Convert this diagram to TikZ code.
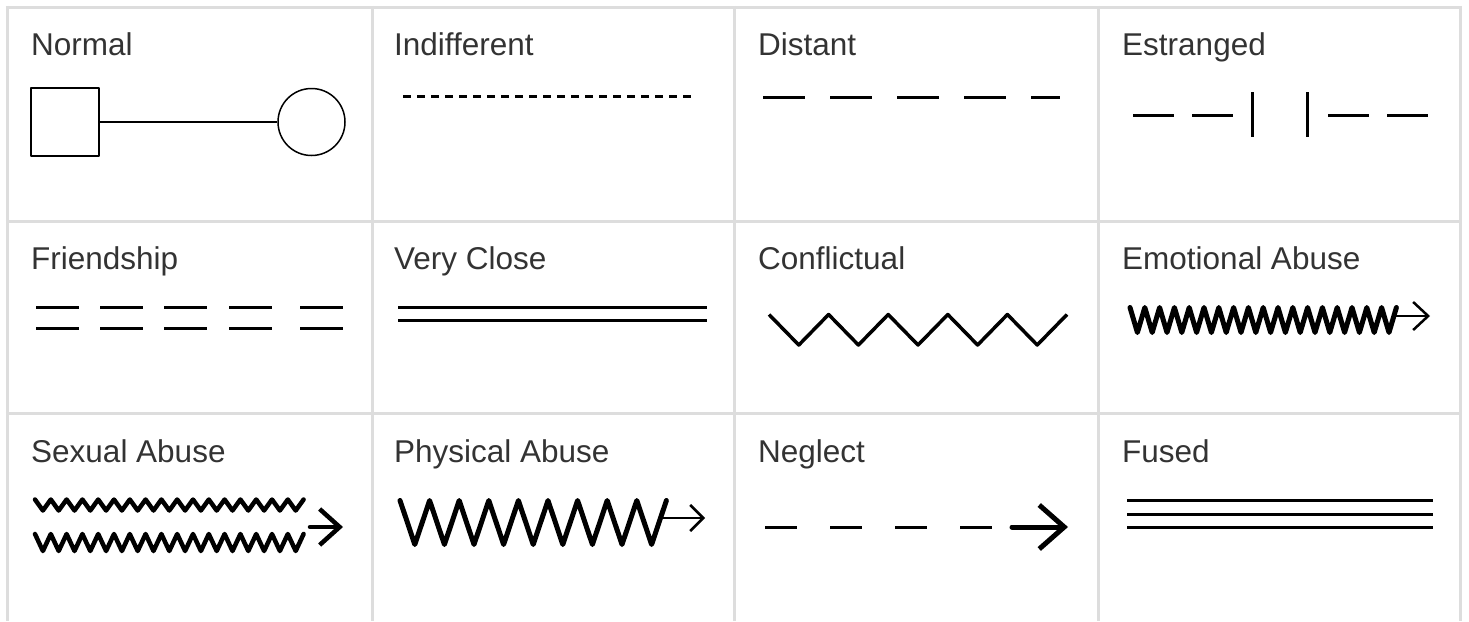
\documentclass[tikz,border=0pt]{standalone}
\usepackage{fontspec}
\setmainfont{Liberation Sans}
\usetikzlibrary{arrows.meta}
\definecolor{cellgray}{HTML}{DDDDDD}
\definecolor{textgray}{HTML}{333333}

\begin{document}
\begin{tikzpicture}[x=1pt, y=-1pt, line join=round]
    \tikzstyle{cellline} = [cellgray, line width=3pt]
    \tikzstyle{legendtext} = [anchor=base west, inner sep=0pt, text=textgray, font=\fontsize{31.5}{36}\selectfont]
    \tikzstyle{rel} = [line width=3pt]
    \tikzstyle{wiggle} = [line width=4.5pt, line cap=round, line join=round]
    \useasboundingbox (0,0) rectangle (1469,621);
    % table
    \foreach \x in {7, 372, 734, 1098, 1460}
        \draw[cellline] (\x,5.5) -- (\x,621);
    \foreach \y in {7, 221, 413}
        \draw[cellline] (5.5,\y) -- (1461.5,\y);
    % names
    \node[legendtext] (normal) at (31,55) {Normal};
    \node[legendtext] (indiff) at (394,55) {Indifferent};
    \node[legendtext] (distant) at (758,55) {Distant};
    \node[legendtext] (estr) at (1122,55) {Estranged};
    \node[legendtext] (friend) at (31,269) {Friendship};
    \node[legendtext] (veryclose) at (394,269) {Very Close};
    \node[legendtext] (confl) at (758,269) {Conflictual};
    \node[legendtext] (emoab) at (1122,269) {Emotional Abuse};
    \node[legendtext] (sexab) at (31,462) {Sexual Abuse};
    \node[legendtext] (physab) at (394,462) {Physical Abuse};
    \node[legendtext] (neglect) at (758,462) {Neglect};
    \node[legendtext] (fused) at (1122,462) {Fused};
    % normal
    \node[draw, line width=1.5pt, minimum size=68pt, inner sep=0pt] (male) at (65,122) {};
    \node[draw, circle, line width=1.5pt, minimum size=67pt, inner sep=0pt] (female) at (311.5,122) {};
    \draw[line width=1.5pt] (male) -- (female);
    % indifferent, distant
    \draw[rel, dash pattern=on 8pt off 6pt] (403,96.5) -- (695,96.5);
    \draw[rel, dash pattern=on 42pt off 25pt] (763,97) -- (1060,97);
    % estranged
    \foreach \x in {1133, 1192, 1328, 1387}
        \draw[rel] (\x,115.5) -- +(41,0);
    \draw[rel] (1252,92) -- (1252,137);
    \draw[rel] (1307,92) -- (1307,137);
    % friendship, very close
    \foreach \x in {36, 100, 164, 229, 300} {
        \draw[rel] (\x,307.5) -- +(43,0);
        \draw[rel] (\x,328.5) -- +(43,0);
    }
    \draw[rel] (398,307.5) -- (707,307.5);
    \draw[rel] (398,320.5) -- (707,320.5);
    % conflictual
    \draw[rel, line width=3.5pt] (769,314.5)
        \foreach \i in {1,...,10} { -- ++(29.8,{-30.5*cos(180*\i)}) };
    % emotional abuse
    \draw[wiggle, line width=5pt] (1130,307.5)
        \foreach \i in {1,...,36} { -- ++(7.4,{-25*cos(180*\i)}) };
    \draw[line width=2.5pt, -{Straight Barb[length=15pt,width=28pt]}] (1394,316) -- (1430,316);
    % sexual abuse
    \draw[wiggle] (35,499.5)
        \foreach \i in {1,...,34} { -- ++(7.9,{-11*cos(180*\i)}) };
    \draw[wiggle] (35,534)
        \foreach \i in {1,...,34} { -- ++(7.9,{-17*cos(180*\i)}) };
    \draw[line width=4.5pt, line cap=round, -{Straight Barb[length=20pt,width=36pt]}] (310,527) -- (343,527);
    % physical abuse
    \draw[wiggle, line width=5pt] (400,500.5)
        \foreach \i in {1,...,18} { -- ++(14.8,{-44*cos(180*\i)}) };
    \draw[line width=2.5pt, -{Straight Barb[length=13pt,width=26pt]}] (662,518) -- (705,518);
    % neglect
    \draw[rel, dash pattern=on 32pt off 33pt] (765,527) -- (992,527);
    \draw[line width=5pt, line cap=round, -{Straight Barb[length=25pt,width=44pt]}] (1012,527) -- (1068,527);
    % fused
    \foreach \y in {500.5, 514.5, 527.5}
        \draw[rel] (1127,\y) -- (1433,\y);
\end{tikzpicture}
\end{document}
